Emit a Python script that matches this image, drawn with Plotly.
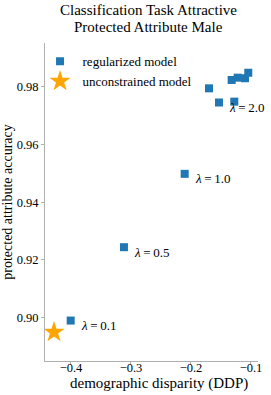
import plotly.graph_objects as go

# Data
reg_ddp = [-0.4005, -0.3117, -0.2105, -0.1700, -0.1533, -0.1278, -0.1322, -0.1222, -0.1100, -0.1045]
reg_acc = [0.8990, 0.9244, 0.9498, 0.9794, 0.9745, 0.9748, 0.9823, 0.9831, 0.9829, 0.9848]
unc_ddp = [-0.4283]
unc_acc = [0.8950]
lam_labels = ["0.1", "0.5", "1.0", "2.0"]
lam_idx = [0, 1, 2, 4]
title_lines = ["Classification Task Attractive", "Protected Attribute Male"]
x_ticks = [-0.4, -0.3, -0.2, -0.1]
x_ticktext = ["−0.4", "−0.3", "−0.2", "−0.1"]
y_ticks = [0.90, 0.92, 0.94, 0.96, 0.98]
y_ticktext = ["0.90", "0.92", "0.94", "0.96", "0.98"]

FONT = "Liberation Serif"
BLUE = "#1f77b4"
ORANGE = "#ffa500"

fig = go.Figure()
fig.add_trace(go.Scatter(
    x=reg_ddp, y=reg_acc, mode="markers", name="regularized model",
    marker=dict(symbol="square", size=8, color=BLUE, line=dict(width=0)),
))
fig.add_trace(go.Scatter(
    x=unc_ddp, y=unc_acc, mode="markers", name="unconstrained model",
    marker=dict(symbol="star", size=16, color=ORANGE, line=dict(width=0)),
))

for lab, i in zip(lam_labels, lam_idx):
    fig.add_annotation(
        x=reg_ddp[i], y=reg_acc[i], text="<i>λ</i>\u2009=\u2009" + lab,
        showarrow=False, xanchor="left", yanchor="middle",
        xshift=8, yshift=-5, font=dict(family=FONT, size=13, color="black"),
    )

for line, yp in zip(title_lines, [1.1028, 1.0510]):
    fig.add_annotation(
        xref="paper", yref="paper", x=0.4836, y=yp, xanchor="center", yanchor="middle",
        text=line, showarrow=False, font=dict(family=FONT, size=15, color="black"),
    )

fig.add_annotation(
    xref="paper", yref="paper", x=0.535, y=-0.0723, xanchor="center", yanchor="middle",
    text="demographic disparity (DDP)", showarrow=False,
    font=dict(family=FONT, size=15, color="black"),
)

axis_common = dict(
    showgrid=False, zeroline=False, showline=True, linecolor="#b0b0b0", linewidth=1,
    ticks="outside", ticklen=3, tickcolor="#b0b0b0", mirror=False, automargin=False,
    tickfont=dict(family=FONT, size=12.5, color="black"),
)

fig.update_layout(
    width=271, height=395,
    margin=dict(l=45, r=13, t=43, b=34, autoexpand=False),
    paper_bgcolor="white", plot_bgcolor="white",
    font=dict(family=FONT, color="black"),
    xaxis=dict(
        range=[-0.4433, -0.0883], tickvals=x_ticks, ticktext=x_ticktext,
        ticklabelstandoff=-8,
        **axis_common,
    ),
    yaxis=dict(
        range=[0.885, 0.9951], tickvals=y_ticks, ticktext=y_ticktext,
        title=dict(text="protected attribute accuracy", font=dict(family=FONT, size=14), standoff=1),
        **axis_common,
    ),
    legend=dict(
        x=-0.035, y=0.9894, xanchor="left", yanchor="top",
        bgcolor="rgba(0,0,0,0)", font=dict(family=FONT, size=13, color="black"),
        itemwidth=35, tracegroupgap=0,
    ),
    showlegend=True,
)

fig.write_html(
    "out.html",
    config={"displayModeBar": False},
    post_script="document.body.style.margin='0';document.body.style.padding='0';",
)
